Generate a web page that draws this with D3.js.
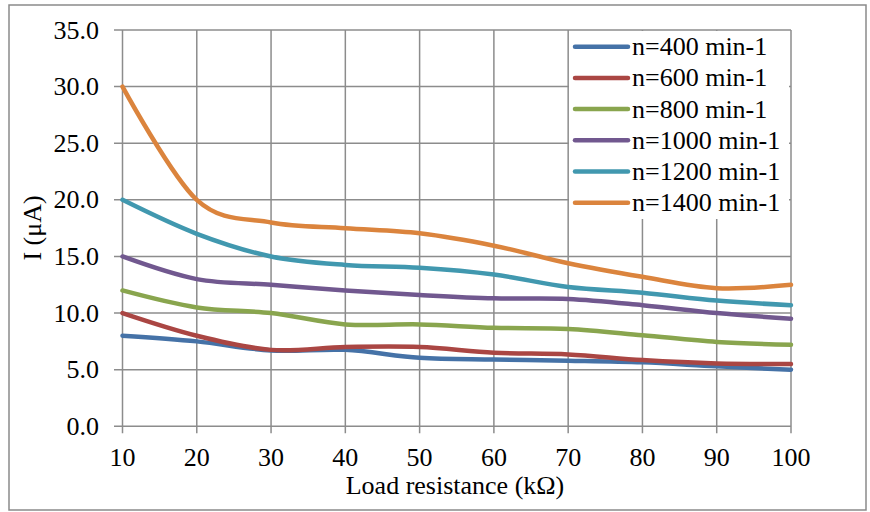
<!DOCTYPE html>
<html><head><meta charset="utf-8">
<script src="https://cdn.jsdelivr.net/npm/d3@7"></script>
<style>body{margin:0;background:#fff}svg{display:block}text{font-family:'Liberation Serif','Times New Roman',serif}</style>
</head><body>
<script>
const xValues = [10, 20, 30, 40, 50, 60, 70, 80, 90, 100];
const seriesNames = ["n=400 min-1", "n=600 min-1", "n=800 min-1", "n=1000 min-1", "n=1200 min-1", "n=1400 min-1"];
const n400  = [8.0, 7.5, 6.7, 6.75, 6.05, 5.9, 5.8, 5.65, 5.3, 5.0];
const n600  = [10.0, 8.0, 6.75, 7.0, 7.0, 6.5, 6.35, 5.85, 5.55, 5.5];
const n800  = [12.0, 10.5, 10.0, 9.0, 9.0, 8.7, 8.6, 8.05, 7.45, 7.2];
const n1000 = [15.0, 13.0, 12.5, 12.0, 11.6, 11.3, 11.25, 10.7, 10.0, 9.5];
const n1200 = [20.0, 17.0, 15.0, 14.25, 14.0, 13.4, 12.3, 11.8, 11.1, 10.7];
const n1400 = [30.0, 20.0, 18.0, 17.5, 17.05, 15.95, 14.4, 13.2, 12.2, 12.5];
const yTicks = [0, 5, 10, 15, 20, 25, 30, 35];
const colors = ["#4572A7", "#AA4643", "#89A54E", "#71588F", "#4198AF", "#DB843D"];
const allSeries = [n400, n600, n800, n1000, n1200, n1400];

const W = 870, H = 512;
const svg = d3.select("body").append("svg").attr("width", W).attr("height", H)
  .attr("font-family", "'Liberation Serif','Times New Roman',serif");
const font = "'Liberation Serif','Times New Roman',serif";

svg.append("rect").attr("x", 9).attr("y", 5).attr("width", 857).attr("height", 505)
  .attr("fill", "#fff").attr("stroke", "#8a8a8a").attr("stroke-width", 1.5);

const x = d3.scaleLinear().domain([10, 100]).range([122.5, 791]);
const y = d3.scaleLinear().domain([0, 35]).range([426.3, 30]);
const grid = "#8c8c8c";

svg.append("g").selectAll("line").data(yTicks).join("line")
  .attr("x1", 114).attr("x2", x(100)).attr("y1", d => y(d)).attr("y2", d => y(d))
  .attr("stroke", grid).attr("stroke-width", 1.5);
svg.append("g").selectAll("line").data(xValues).join("line")
  .attr("x1", d => x(d)).attr("x2", d => x(d)).attr("y1", y(35)).attr("y2", y(0) + 7)
  .attr("stroke", grid).attr("stroke-width", 1.5);

svg.append("g").selectAll("text").data(yTicks).join("text")
  .attr("x", 99).attr("y", d => y(d)).attr("dy", "0.33em").attr("text-anchor", "end")
  .style("font-family", font).style("font-size", "26px").text(d => d3.format(".1f")(d));
svg.append("g").selectAll("text").data(xValues).join("text")
  .attr("x", d => x(d)).attr("y", 466).attr("text-anchor", "middle")
  .style("font-family", font).style("font-size", "26px").text(d => d);

svg.append("text").attr("x", 455).attr("y", 494).attr("text-anchor", "middle")
  .style("font-family", font).style("font-size", "26px").text("Load resistance (kΩ)");
svg.append("text").attr("transform", "translate(41,228) rotate(-90)").attr("text-anchor", "middle")
  .style("font-family", font).style("font-size", "26px").text("I (μA)");

const line = d3.line().x((d, i) => x(xValues[i])).y(d => y(d)).curve(d3.curveCatmullRom.alpha(0));
svg.append("g").selectAll("path").data(allSeries).join("path")
  .attr("d", d => line(d)).attr("fill", "none")
  .attr("stroke", (d, i) => colors[i]).attr("stroke-width", 4.5).attr("stroke-linecap", "round");

svg.append("rect").attr("x", 569).attr("y", 31).attr("width", 220).attr("height", 188).attr("fill", "#fff");
const lg = svg.append("g").selectAll("g").data(seriesNames).join("g")
  .attr("transform", (d, i) => `translate(0,${46.7 + i * 31.2})`);
lg.append("line").attr("x1", 575).attr("x2", 628).attr("y1", 0).attr("y2", 0)
  .attr("stroke", (d, i) => colors[i]).attr("stroke-width", 4.5).attr("stroke-linecap", "round");
lg.append("text").attr("x", 632).attr("y", 0).attr("dy", "0.33em")
  .style("font-family", font).style("font-size", "26px").text(d => d);
</script>
</body></html>
